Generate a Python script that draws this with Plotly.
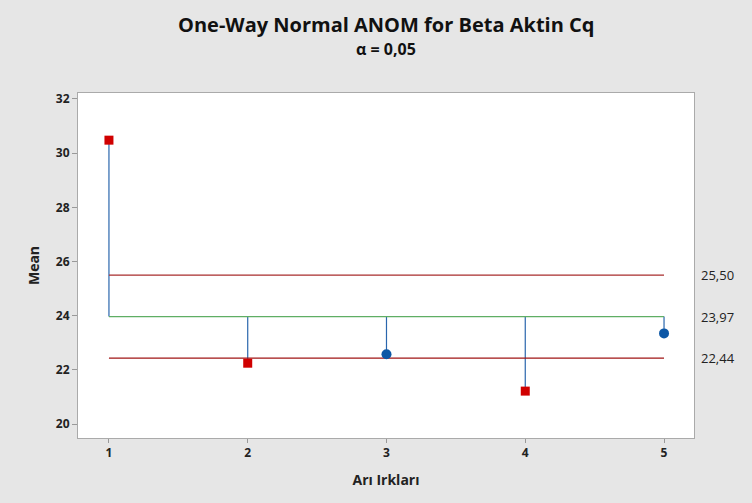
import plotly.graph_objects as go

# Group means for each bee race
groups = [1, 2, 3, 4, 5]
means = [30.48, 22.25, 22.58, 21.22, 23.35]
# Decision limits and center line
udl = 25.50
center = 23.97
ldl = 22.44
limit_labels = ["25,50", "23,97", "22,44"]
y_ticks = [20, 22, 24, 26, 28, 30, 32]

out_of_limits = [m > udl or m < ldl for m in means]

fig = go.Figure()

# Stems from center line to each group mean
for g, m in zip(groups, means):
    fig.add_trace(go.Scatter(x=[g, g], y=[center, m], mode="lines",
                             line=dict(color="#2a66ad", width=1.2),
                             hoverinfo="skip", showlegend=False))

# Decision limits and center line
for val, col in [(udl, "#a82c2c"), (ldl, "#a01414"), (center, "#5fae64")]:
    fig.add_trace(go.Scatter(x=[groups[0], groups[-1]], y=[val, val], mode="lines",
                             line=dict(color=col, width=1.2),
                             hoverinfo="skip", showlegend=False))

# Means inside the limits (blue circles)
fig.add_trace(go.Scatter(
    x=[g for g, o in zip(groups, out_of_limits) if not o],
    y=[m for m, o in zip(means, out_of_limits) if not o],
    mode="markers", marker=dict(symbol="circle", size=10, color="#0c57a6"),
    showlegend=False))
# Means outside the limits (red squares)
fig.add_trace(go.Scatter(
    x=[g for g, o in zip(groups, out_of_limits) if o],
    y=[m for m, o in zip(means, out_of_limits) if o],
    mode="markers", marker=dict(symbol="square", size=9, color="#d00000"),
    showlegend=False))

# Limit value labels on the right
for val, txt in zip([udl, center, ldl], limit_labels):
    fig.add_annotation(x=1.008, xref="paper", y=val, yref="y", text=txt,
                       showarrow=False, xanchor="left", yanchor="middle",
                       font=dict(family="Open Sans", size=13, color="#222222"))

# Title and subtitle
fig.add_annotation(x=0.5, xref="paper", y=1, yref="paper", yshift=69,
                   text="<b>One-Way Normal ANOM for Beta Aktin Cq</b>",
                   showarrow=False, xanchor="center", yanchor="middle",
                   font=dict(family="Open Sans", size=20, color="#111111"))
fig.add_annotation(x=0.5, xref="paper", y=1, yref="paper", yshift=44,
                   text="<b>α = 0,05</b>",
                   showarrow=False, xanchor="center", yanchor="middle",
                   font=dict(family="Open Sans", size=16, color="#111111"))

fig.update_layout(
    width=752, height=503,
    margin=dict(l=78, r=58, t=93, b=65),
    paper_bgcolor="#e6e6e6", plot_bgcolor="white",
    font=dict(family="Open Sans", color="#222222"),
)
fig.update_xaxes(range=[0.777, 5.216], tickvals=groups, ticks="outside", ticklen=4,
                 tickcolor="#999999", showgrid=False, zeroline=False,
                 showline=True, linecolor="#aaaaaa", mirror=True, linewidth=1,
                 tickfont=dict(size=12, color="#222222", family="Open Sans",
                               weight="bold"),
                 title=dict(text="<b>Arı Irkları</b>", standoff=14,
                            font=dict(size=14, family="Open Sans")))
fig.update_yaxes(range=[19.49, 32.22], tickvals=y_ticks, ticks="outside", ticklen=5,
                 tickcolor="#999999", showgrid=False, zeroline=False,
                 showline=True, linecolor="#aaaaaa", mirror=True, linewidth=1,
                 tickfont=dict(size=12, color="#222222", family="Open Sans",
                               weight="bold"),
                 title=dict(text="<b>Mean</b>", standoff=12,
                            font=dict(size=14, family="Open Sans")))

fig.write_html("out.html")
